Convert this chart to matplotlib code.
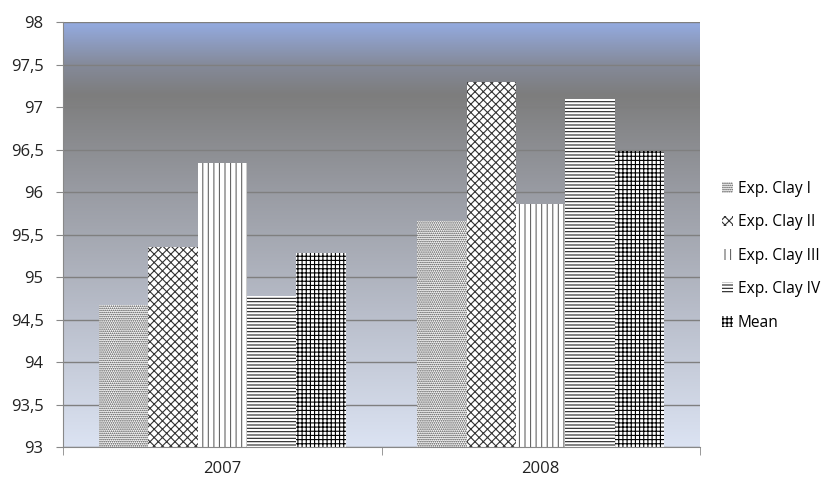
import numpy as np
import matplotlib
matplotlib.use("Agg")
import matplotlib.pyplot as plt
from matplotlib.colors import LinearSegmentedColormap
from matplotlib.patches import Patch

plt.rcParams['font.family'] = ['Open Sans', 'DejaVu Sans']
plt.rcParams['hatch.linewidth'] = 0.8

years = ['2007', '2008']
series = ['Exp. Clay I', 'Exp. Clay II', 'Exp. Clay III', 'Exp. Clay IV', 'Mean']
clay1 = [94.67, 95.66]
clay2 = [95.35, 97.29]
clay3 = [96.34, 95.86]
clay4 = [94.78, 97.09]
mean = [95.28, 96.48]
values = [clay1, clay2, clay3, clay4, mean]
hatches = ['........', 'xxxx', '|||', '-----', '++++']
hatch_cols = ['#444444', '#333333', '#666666', '#222222', '#000000']

fig = plt.figure(figsize=(8.23, 4.79), dpi=100)
ax = fig.add_axes([63 / 823, 32 / 479, 637 / 823, 425 / 479])

# background gradient
stops = [(0.0, (0.58, 0.67, 0.88)), (0.1, (0.52, 0.54, 0.60)), (0.17, (0.49, 0.49, 0.49)),
         (0.4, (0.60, 0.61, 0.64)), (0.7, (0.73, 0.75, 0.80)), (1.0, (0.86, 0.89, 0.95))]
cmap = LinearSegmentedColormap.from_list('bg', stops)
grad = np.linspace(0, 1, 256).reshape(-1, 1)
ax.imshow(grad, cmap=cmap, aspect='auto', extent=(-0.5, 1.5, 93, 98), origin='upper', zorder=0)

w = 0.155
x = np.arange(len(years))
for i, (vals, h, hc) in enumerate(zip(values, hatches, hatch_cols)):
    pos = x + (i - 2) * w
    ax.bar(pos, np.array(vals) - 93, bottom=93, width=w, color='white',
           edgecolor=hc, linewidth=0, hatch=h, zorder=2)

ax.set_xlim(-0.5, 1.5)
ax.set_ylim(93, 98)
ax.set_yticks(np.arange(93, 98.01, 0.5))
ax.set_yticklabels([('%g' % v).replace('.', ',') for v in np.arange(93, 98.01, 0.5)])
ax.set_xticks(x)
ax.set_xticklabels(years)
ax.set_xticks([-0.5, 0.5, 1.5], minor=True)
ax.tick_params(axis='x', which='major', length=0, pad=10, labelsize=12, labelcolor='#222222')
ax.tick_params(axis='x', which='minor', length=6, color='#888888')
ax.tick_params(axis='y', length=5, color='#888888', labelsize=12, labelcolor='#222222', pad=9)
ax.grid(axis='y', color='#7f7f7f', linewidth=1)
ax.set_axisbelow(True)
for s in ['top', 'right']:
    ax.spines[s].set_visible(False)
ax.spines['left'].set_color('#888888')
ax.spines['bottom'].set_color('#888888')

handles = [Patch(facecolor='white', edgecolor=hc, hatch=h, linewidth=0)
           for h, hc in zip(hatches, hatch_cols)]
fig.legend(handles, series, loc='upper left', bbox_to_anchor=(708 / 823, 1 - 167 / 479),
           frameon=False, fontsize=11.2, handlelength=0.7, handleheight=0.7,
           handletextpad=0.3, labelspacing=1.12)

fig.savefig('out.png', dpi=100)
